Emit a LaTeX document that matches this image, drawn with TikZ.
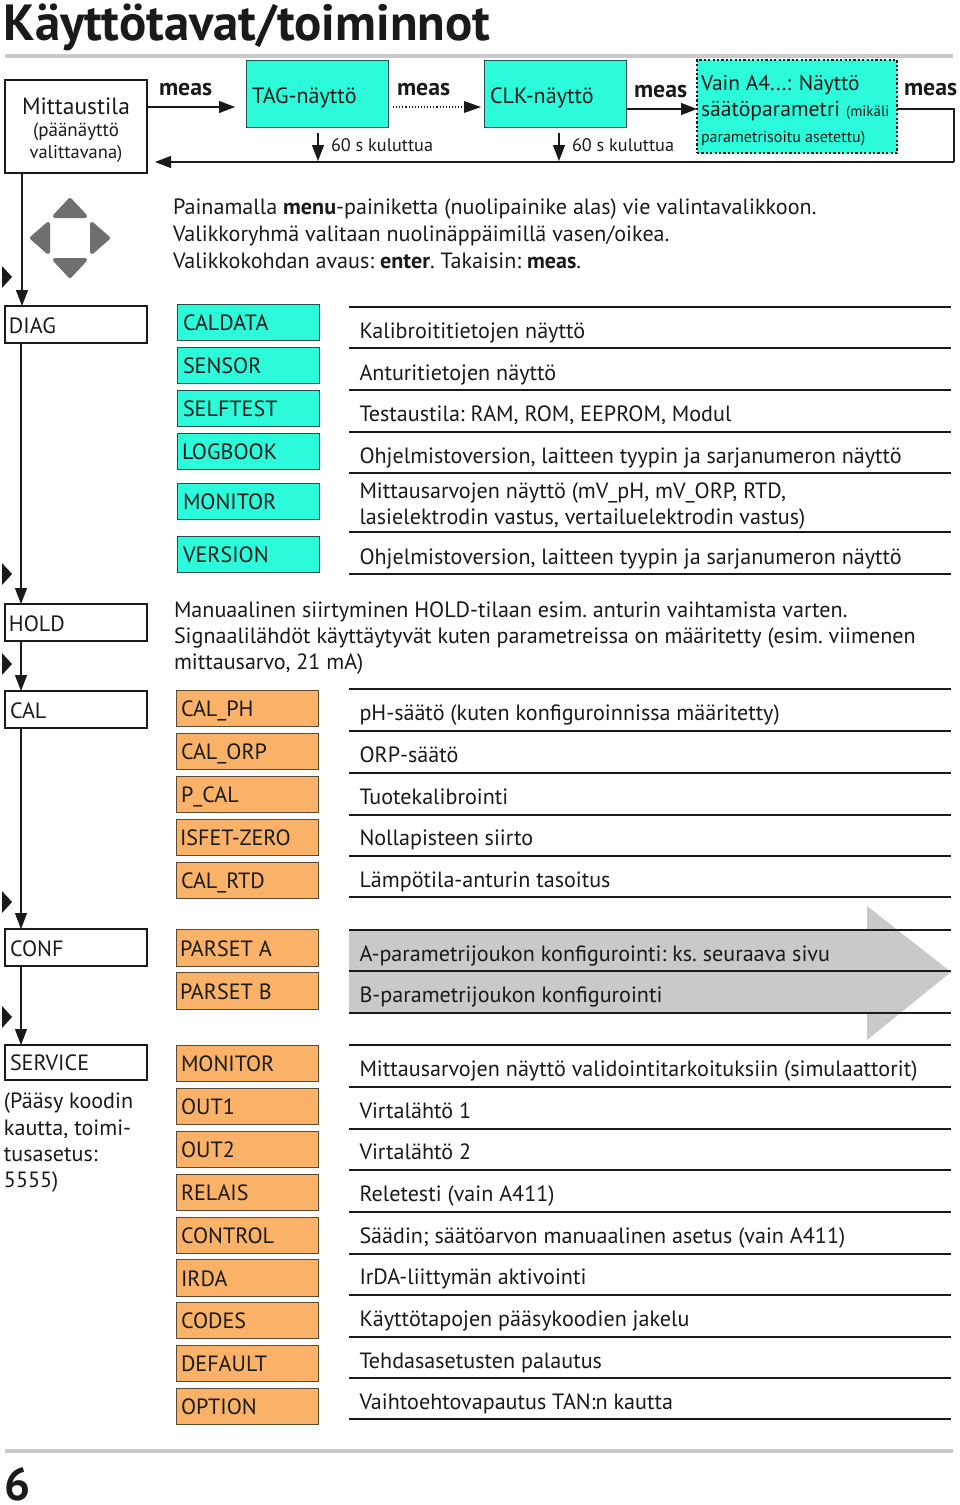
\documentclass[tikz,border=0pt]{standalone}
\usepackage{fontspec}
\setmainfont{PT Sans}
\usetikzlibrary{arrows.meta,calc}
\definecolor{cyanbox}{HTML}{2BFBDB}
\definecolor{orangebox}{HTML}{F9B267}
\definecolor{graybar}{HTML}{C8C9CB}
\definecolor{iconc}{HTML}{6E6F71}
\definecolor{ink}{HTML}{1A1A1A}
\tikzset{
 x=1pt,y=-1pt,
 every node/.style={text=ink,inner sep=0pt,outer sep=0pt},
 arr/.style={draw=ink,line width=1.2pt,-{Triangle[length=16pt,width=12pt,fill=ink]}},
 plainline/.style={draw=ink,line width=1.2pt},
 rule/.style={draw=ink,line width=1.3pt},
 body/.style={anchor=base west,font=\fontsize{22.1}{26.5}\selectfont\frenchspacing},
 small/.style={anchor=base west,font=\fontsize{18.2}{24}\selectfont},
 keyw/.style={anchor=base west,font=\fontsize{23.8}{26}\selectfont\bfseries},
 modebox/.style={draw=ink,line width=1.8pt,fill=white},
 cyanb/.style={draw=ink!75!cyanbox,line width=1pt,fill=cyanbox},
 orangeb/.style={draw=ink!70!orangebox,line width=1pt,fill=orangebox},
 icon/.style={fill=iconc,draw=iconc,line width=4pt,line join=round},
 tick/.style={fill=ink,draw=none},
 hbar/.style={draw=graybar,line width=3.5pt},
}
% box with corners, label starting at given x
\newcommand{\bx}[8]{% name style x1 y1 x2 y2 textx text
 \node[#2,anchor=north west,minimum width=#5pt-#3pt,minimum height=#6pt-#4pt] (#1) at (#3,#4) {};
 \node[body] (#1t) at (#7,#6-10) {#8};}
\newcommand{\rl}[2]{\coordinate (ra#1) at (349,#2); \coordinate (rb#1) at (951,#2); \draw[rule] (ra#1) -- (rb#1);}
\newcommand{\rt}[3]{\node[body] (#1) at (359.5,#2) {#3};}
\newcommand{\tk}[2]{\coordinate (tk#1) at (2,#2); \fill[tick] ($(tk#1)+(0,-11)$) -- ($(tk#1)+(10,0)$) -- ($(tk#1)+(0,11)$) -- cycle;}
\begin{document}
\begin{tikzpicture}
\useasboundingbox (0,0) rectangle (960,1505);
\fill[white] (0,0) rectangle (960,1505);
\node[anchor=base west,font=\fontsize{50.8}{54}\selectfont\bfseries] (title) at (4,40) {Käyttötavat/toiminnot};
\coordinate (ba) at (5,56); \coordinate (bb) at (953,56); \draw[hbar] (ba) -- (bb);
\coordinate (ca) at (5,1451); \coordinate (cb) at (953,1451); \draw[hbar] (ca) -- (cb);
\node[anchor=base west,font=\fontsize{46}{50}\selectfont\bfseries] (pageno) at (5,1500) {6};

% top row
\node[modebox,anchor=north west,minimum width=142pt,minimum height=93pt] (mitta) at (5,80) {};
\node[anchor=base,font=\fontsize{23.5}{26}\selectfont] (mt1) at (76,114) {Mittaustila};
\node[anchor=base,font=\fontsize{19}{22}\selectfont] (mt2) at (76,136) {(päänäyttö};
\node[anchor=base,font=\fontsize{18.5}{22}\selectfont] (mt3) at (76,158) {valittavana)};
\node[cyanb,anchor=north west,minimum width=142pt,minimum height=67pt] (tag) at (246,60) {};
\node[body] (tagt) at (252,103) {TAG-näyttö};
\node[cyanb,anchor=north west,minimum width=142pt,minimum height=67pt] (clk) at (484,60) {};
\node[body] (clkt) at (490,103) {CLK-näyttö};
\node[draw=ink,fill=cyanbox,line width=2.2pt,dash pattern=on 2.2pt off 2.2pt,anchor=north west,minimum width=200pt,minimum height=93pt] (a4) at (697,60) {};
\node[anchor=base west,font=\fontsize{21.4}{26}\selectfont] (a4a) at (701,90) {Vain A4...: Näyttö};
\node[anchor=base west,font=\fontsize{21.7}{26}\selectfont] (a4b) at (701,116) {säätöparametri {\fontsize{15}{18}\selectfont(mikäli}};
\node[anchor=base west,font=\fontsize{16}{18}\selectfont] (a4c) at (701,142) {parametrisoitu asetettu)};
\node[keyw] (m1) at (159,95) {meas};
\node[keyw] (m2) at (397,95) {meas};
\node[keyw] (m3) at (634,97) {meas};
\node[keyw] (m4) at (904,95) {meas};
\draw[arr] (mitta.east |- 0,107) -- ++(1,0) coordinate (x1) -- (235,107);
\draw[draw=ink,line width=1.1pt,dotted,shorten >=12pt] (tag.east |- 0,107)++(5,0) -- (481,107);
\fill[ink] (464,101) coordinate (hh) -- (481,107) -- (464,113) -- cycle;
\draw[arr] (clk.east |- 0,109) -- (a4.west |- 0,109);
\coordinate (corner1) at (954,109);
\coordinate (corner2) at (954,162);
\draw[plainline] (a4.east |- 0,109) -- (corner1) -- (corner2);
\draw[arr] (corner2) -- (155,162);
\coordinate (d1a) at (318,133); \coordinate (d1b) at (318,161);
\coordinate (d2a) at (559,133); \coordinate (d2b) at (559,161);
\draw[arr] (d1a) -- (d1b);
\draw[arr] (d2a) -- (d2b);
\node[small] (k1) at (331,151) {60 s kuluttua};
\node[small] (k2) at (572,151) {60 s kuluttua};

% icon
\fill[icon] (70,200) -- (85,216) -- (55,216) -- cycle;
\draw[icon] (70,276) -- (85,260) -- (55,260) -- cycle;
\draw[icon] (32,238) -- (48,224) -- (48,252) -- cycle;
\draw[icon] (108,238) -- (92,224) -- (92,252) -- cycle;

% intro
\node[body] (i1) at (173,214) {Painamalla \textbf{menu}-painiketta (nuolipainike alas) vie valintavalikkoon.};
\node[body] (i2) at (173,241) {Valikkoryhmä valitaan nuolinäppäimillä vasen/oikea.};
\node[body] (i3) at (173,268) {Valikkokohdan avaus: \textbf{enter}. Takaisin: \textbf{meas}.};

% left boxes
\bx{diag}{modebox}{5}{306}{147}{343}{9}{DIAG}
\bx{hold}{modebox}{5}{604}{147}{641}{9}{HOLD}
\bx{cal}{modebox}{5}{691}{147}{728}{10}{CAL}
\bx{conf}{modebox}{5}{929}{147}{966}{10}{CONF}
\bx{serv}{modebox}{5}{1045}{147}{1080}{10}{SERVICE}
\draw[arr] (mitta.south -| 22,0) -- (diag.north -| 22,0);
\draw[arr] (diag.south -| 21,0) -- (hold.north -| 21,0);
\draw[arr] (hold.south -| 21,0) -- (cal.north -| 21,0);
\draw[arr] (cal.south -| 21,0) -- (conf.north -| 21,0);
\draw[arr] (conf.south -| 21,0) -- (serv.north -| 21,0);
\tk{a}{277}\tk{b}{574}\tk{c}{664}\tk{d}{902}\tk{e}{1017}
\node[body] (s1) at (4,1108) {(Pääsy koodin};
\node[body] (s2) at (4,1135) {kautta, toimi-};
\node[body] (s3) at (4,1161) {tusasetus:};
\node[body] (s4) at (4,1187) {5555)};

% DIAG
\bx{d1}{cyanb}{177}{304}{319}{340}{183}{CALDATA}
\bx{d2}{cyanb}{177}{347}{319}{383}{183}{SENSOR}
\bx{d3}{cyanb}{177}{390}{319}{426}{183}{SELFTEST}
\bx{d4}{cyanb}{177}{433}{319}{469}{182}{LOGBOOK}
\bx{d5}{cyanb}{177}{483}{319}{519}{183}{MONITOR}
\bx{d6}{cyanb}{177}{536}{319}{572}{183}{VERSION}
\rl{1}{307}\rl{2}{348}\rl{3}{390}\rl{4}{432}\rl{5}{473}\rl{6}{532}\rl{7}{574}
\rt{r1}{338}{Kalibroititietojen näyttö}
\rt{r2}{380}{Anturitietojen näyttö}
\rt{r3}{421}{Testaustila: RAM, ROM, EEPROM, Modul}
\rt{r4}{463}{Ohjelmistoversion, laitteen tyypin ja sarjanumeron näyttö}
\rt{r5}{498}{Mittausarvojen näyttö (mV\_pH, mV\_ORP, RTD,}
\rt{r5b}{524}{lasielektrodin vastus, vertailuelektrodin vastus)}
\rt{r6}{564}{Ohjelmistoversion, laitteen tyypin ja sarjanumeron näyttö}

% HOLD
\node[body] (h1) at (174,617) {Manuaalinen siirtyminen HOLD-tilaan esim. anturin vaihtamista varten.};
\node[body] (h2) at (174,643) {Signaalilähdöt käyttäytyvät kuten parametreissa on määritetty (esim. viimenen};
\node[body] (h3) at (174,669) {mittausarvo, 21 mA)};

% CAL
\bx{c1}{orangeb}{176}{690}{318}{726}{181}{CAL\_PH}
\bx{c2}{orangeb}{176}{733}{318}{769}{181}{CAL\_ORP}
\bx{c3}{orangeb}{176}{776}{318}{812}{181}{P\_CAL}
\bx{c4}{orangeb}{176}{819}{318}{855}{180}{ISFET-ZERO}
\bx{c5}{orangeb}{176}{862}{318}{898}{181}{CAL\_RTD}
\rl{8}{689}\rl{9}{731}\rl{10}{773}\rl{11}{815}\rl{12}{856}\rl{13}{897}
\rt{r8}{720}{pH-säätö (kuten konfiguroinnissa määritetty)}
\rt{r9}{762}{ORP-säätö}
\rt{r10}{804}{Tuotekalibrointi}
\rt{r11}{845}{Nollapisteen siirto}
\rt{r12}{887}{Lämpötila-anturin tasoitus}

% CONF
\bx{p1}{orangeb}{176}{929}{318}{966}{180}{PARSET A}
\bx{p2}{orangeb}{176}{972}{318}{1009}{180}{PARSET B}
\fill[graybar] (349,930) -- (867,930) -- (867,906) -- (951,972) -- (867,1040) -- (867,1013) -- (349,1013) -- cycle;
\rl{14}{930}\rl{15}{971}\rl{16}{1013}
\rt{r14}{961}{A-parametrijoukon konfigurointi: ks. seuraava sivu}
\rt{r15}{1002}{B-parametrijoukon konfigurointi}

% SERVICE
\bx{v1}{orangeb}{176}{1045}{318}{1081}{181}{MONITOR}
\bx{v2}{orangeb}{176}{1088}{318}{1124}{181}{OUT1}
\bx{v3}{orangeb}{176}{1131}{318}{1167}{181}{OUT2}
\bx{v4}{orangeb}{176}{1174}{318}{1210}{181}{RELAIS}
\bx{v5}{orangeb}{176}{1217}{318}{1253}{181}{CONTROL}
\bx{v6}{orangeb}{176}{1259}{318}{1296}{181}{IRDA}
\bx{v7}{orangeb}{176}{1302}{318}{1338}{181}{CODES}
\bx{v8}{orangeb}{176}{1345}{318}{1381}{181}{DEFAULT}
\bx{v9}{orangeb}{176}{1388}{318}{1424}{181}{OPTION}
\rl{20}{1045}\rl{21}{1087}\rl{22}{1129}\rl{23}{1170}\rl{24}{1212}\rl{25}{1254}\rl{26}{1295}\rl{27}{1337}\rl{28}{1378}\rl{29}{1419}
\rt{r20}{1076}{Mittausarvojen näyttö validointitarkoituksiin (simulaattorit)}
\rt{r21}{1118}{Virtalähtö 1}
\rt{r22}{1159}{Virtalähtö 2}
\rt{r23}{1201}{Reletesti (vain A411)}
\rt{r24}{1243}{Säädin; säätöarvon manuaalinen asetus (vain A411)}
\rt{r25}{1284}{IrDA-liittymän aktivointi}
\rt{r26}{1326}{Käyttötapojen pääsykoodien jakelu}
\rt{r27}{1368}{Tehdasasetusten palautus}
\rt{r28}{1409}{Vaihtoehtovapautus TAN:n kautta}
\end{tikzpicture}
\end{document}
